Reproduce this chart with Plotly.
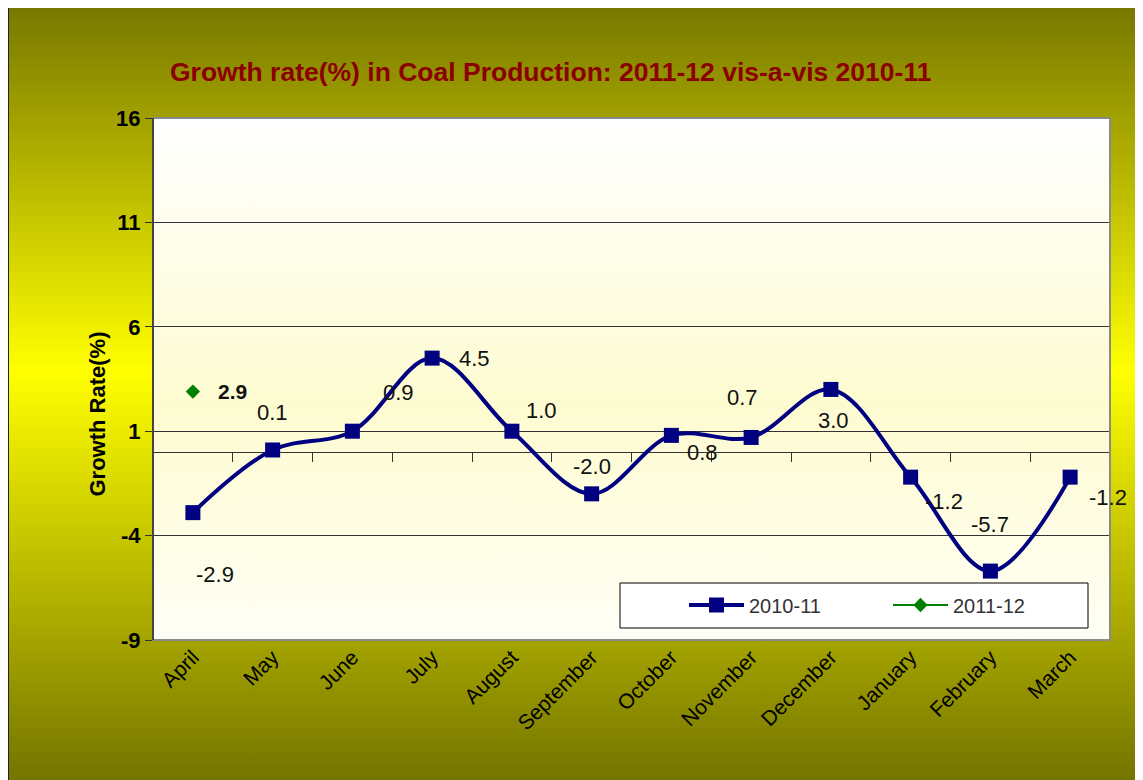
import base64
import plotly.graph_objects as go

# Dati
mesi = ["April", "May", "June", "July", "August", "September",
        "October", "November", "December", "January", "February", "March"]
crescita_2010_11 = [-2.9, 0.1, 1.0, 4.5, 1.0, -2.0, 0.8, 0.7, 3.0, -1.2, -5.7, -1.2]
etichette_2010_11 = ["-2.9", "0.1", "0.9", "4.5", "1.0", "-2.0", "0.8", "0.7", "3.0", "-1.2", "-5.7", "-1.2"]
mesi_2011_12 = ["April"]
crescita_2011_12 = [2.9]
ytick_valori = [-9, -4, 1, 6, 11, 16]
ytick_testi = ["-9", "-4", "1", "6", "11", "16"]

# spostamento etichette (pixel) come in Excel
spost_x = [22, 0, 46, 42, 30, 0, 31, -9, 3, 33, 0, 38]
spost_y = [-62, 37, 39, 0, 21, 27, -17, 40, -31, -24, 47, -20]

W, H = 1135, 772
L, R, T, B = 145, 33, 110, 140
PW, PH = W - L - R, H - T - B
FONT = "Liberation Sans, Arial"


def svg_gradiente(stops):
    s = "".join(f'<stop offset="{o}" stop-color="{c}"/>' for o, c in stops)
    svg = ('<svg xmlns="http://www.w3.org/2000/svg" width="100" height="100" preserveAspectRatio="none">'
           '<defs><linearGradient id="g" x1="0" y1="0" x2="0" y2="1">' + s +
           '</linearGradient></defs><rect width="100" height="100" fill="url(#g)"/></svg>')
    return "data:image/svg+xml;base64," + base64.b64encode(svg.encode()).decode()


sfondo = svg_gradiente([(0, "#787800"), (0.47, "#ffff00"), (1, "#747400")])
sfondo_plot = svg_gradiente([(0, "#ffffff"), (0.55, "#fdfbd0"), (1, "#fffff6")])

fig = go.Figure()
fig.add_trace(go.Scatter(x=mesi, y=crescita_2010_11, name="2010-11", mode="lines+markers",
                         line=dict(color="#000080", width=4, shape="spline", smoothing=1),
                         marker=dict(symbol="square", size=15, color="#000080")))
fig.add_trace(go.Scatter(x=mesi_2011_12, y=crescita_2011_12, name="2011-12", mode="lines+markers",
                         line=dict(color="#008000", width=2),
                         marker=dict(symbol="diamond", size=11, color="#008000")))
# serve solo per disegnare le tacche dell'asse categorie sullo zero
fig.add_trace(go.Scatter(x=mesi, y=crescita_2010_11, xaxis="x2", mode="none",
                         showlegend=False, hoverinfo="skip"))

# etichette dati
for m, v, t, dx, dy in zip(mesi, crescita_2010_11, etichette_2010_11, spost_x, spost_y):
    fig.add_annotation(x=m, y=v, text=t, showarrow=False, xshift=dx, yshift=dy,
                       font=dict(family=FONT, size=22, color="#111111"))
for m, v in zip(mesi_2011_12, crescita_2011_12):
    fig.add_annotation(x=m, y=v, text=f"<b>{v:.1f}</b>", showarrow=False, xshift=40,
                       font=dict(family=FONT, size=21, color="#111111"))

# titolo asse y
fig.add_annotation(xref="paper", yref="paper", x=(82 - 153) / PW, y=(640 - 414) / PH,
                   text="<b>Growth Rate(%)</b>", textangle=-90, showarrow=False,
                   font=dict(family=FONT, size=22, color="#000000"))

# cornice legenda
fig.add_shape(type="rect", xref="paper", yref="paper",
              x0=(620 - 153) / PW, x1=(1088 - 153) / PW, y0=(640 - 628) / PH, y1=(640 - 583) / PH,
              fillcolor="white", line=dict(color="#000000", width=1), layer="above")
# bordo area grafico
fig.add_shape(type="rect", xref="paper", yref="paper", x0=0, x1=1, y0=0, y1=1,
              line=dict(color="#8a8a8a", width=2), layer="above")
fig.add_shape(type="line", xref="paper", yref="paper", x0=0, x1=0, y0=0, y1=1,
              line=dict(color="#444444", width=2), layer="above")
# bordo sinistro immagine
fig.add_shape(type="line", xref="paper", yref="paper", x0=(-L + 0.5) / PW, x1=(-L + 0.5) / PW,
              y0=-B / PH, y1=1 + T / PH, line=dict(color="#222222", width=1), layer="below")

fig.update_layout(
    width=W, height=H,
    margin=dict(l=L, r=R, t=T, b=B),
    paper_bgcolor="white", plot_bgcolor="rgba(0,0,0,0)",
    images=[
        dict(source=sfondo, xref="paper", yref="paper", x=-L / PW, y=1 + T / PH,
             sizex=W / PW, sizey=H / PH, sizing="stretch", layer="below",
             xanchor="left", yanchor="top"),
        dict(source=sfondo_plot, xref="paper", yref="paper", x=0, y=1, sizex=1, sizey=1,
             sizing="stretch", layer="below", xanchor="left", yanchor="top"),
    ],
    title=dict(text="<b>Growth rate(%) in Coal Production: 2011-12 vis-a-vis 2010-11</b>",
               x=162 / W, xanchor="left", y=1 - 64 / H, yanchor="middle",
               font=dict(family=FONT, size=26.5, color="#8b0000")),
    xaxis=dict(type="category", categoryorder="array", categoryarray=mesi, range=[-0.5, 11.5],
               showgrid=False, zeroline=False, showline=False, ticks="", tickangle=-45,
               automargin=False,
               tickfont=dict(family=FONT, size=21, color="#000000")),
    xaxis2=dict(type="category", categoryorder="array", categoryarray=mesi,
                overlaying="x", anchor="free", position=9 / 25, side="bottom",
                range=[-0.5, 11.5], ticks="outside", tickson="boundaries", ticklen=9,
                tickcolor="#333333", tickwidth=1, showticklabels=False, showgrid=False,
                zeroline=False, showline=False, automargin=False),
    yaxis=dict(range=[-9, 16], tickvals=ytick_valori,
               ticktext=[f"<b>{t}</b>" for t in ytick_testi],
               showgrid=True, gridcolor="#333333", gridwidth=1,
               zeroline=True, zerolinecolor="#333333", zerolinewidth=1,
               ticks="outside", ticklen=7, tickcolor="#333333", automargin=False,
               tickfont=dict(family=FONT, size=22, color="#000000")),
    legend=dict(orientation="h", x=(684 - 153) / PW, y=(640 - 605) / PH, xanchor="left",
                yanchor="middle", bgcolor="rgba(0,0,0,0)", itemwidth=55,
                entrywidth=134, entrywidthmode="pixels",
                font=dict(family=FONT, size=20, color="#333333")),
    showlegend=True,
)

fig.write_html("out.html")
